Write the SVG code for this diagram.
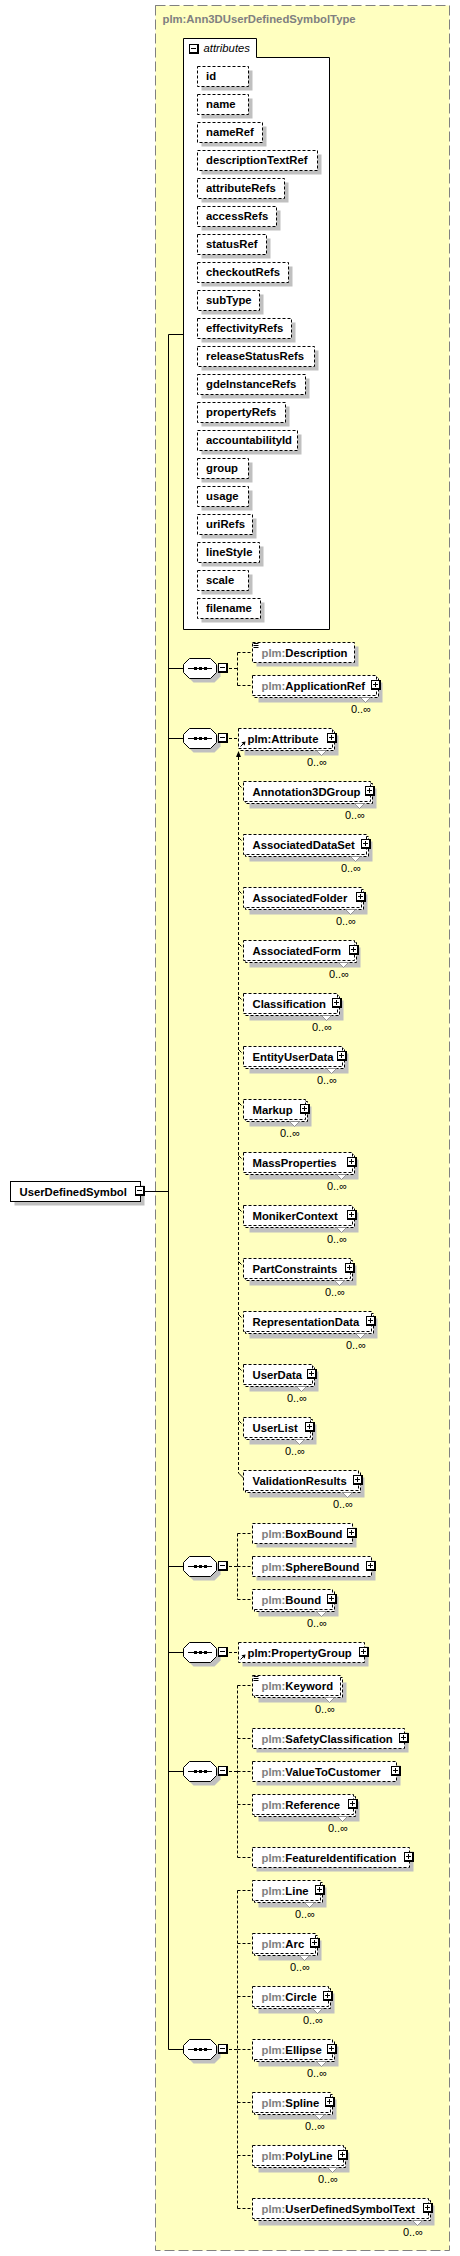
<svg xmlns="http://www.w3.org/2000/svg" xmlns:xlink="http://www.w3.org/1999/xlink" width="460" height="2256" viewBox="0 0 460 2256">
<style>
.t{font-family:"Liberation Sans",Arial,sans-serif;font-size:11.3px;font-weight:bold;fill:#000}
.g{fill:#808080}
.i{font-family:"Liberation Sans",Arial,sans-serif;font-size:11.3px;font-style:italic;fill:#000}
.o{font-family:"Liberation Sans",Arial,sans-serif;font-size:11px;fill:#000;text-anchor:end}
.b{fill:#fff;stroke:#000;stroke-width:1;stroke-dasharray:3,2}
.bs{fill:#fff;stroke:#000;stroke-width:1}
.s{fill:#c0c0c0}
.c{fill:none;stroke:#000;stroke-width:1;stroke-dasharray:3,2}
.l{fill:none;stroke:#000;stroke-width:1}
.v{fill:#fff;stroke:#808080;stroke-width:0.8}
</style>
<defs>
<g id="plus"><rect width="10" height="10" fill="#000"/><rect x="1" y="1" width="7" height="7" fill="#fff"/><rect x="2" y="4" width="5" height="1" fill="#000"/><rect x="4" y="2" width="1" height="5" fill="#000"/></g>
<g id="minus"><rect width="10" height="10" fill="#000"/><rect x="1" y="1" width="7" height="7" fill="#fff"/><rect x="2" y="4" width="5" height="1" fill="#000"/></g>
<g id="seq">
<polygon class="s" points="193.5,-6 214.5,-6 220.5,0 220.5,8 214.5,14 193.5,14 187.5,8 187.5,0"/>
<polygon class="bs" points="189.5,-10 210.5,-10 216.5,-4 216.5,4 210.5,10 189.5,10 183.5,4 183.5,-4"/>
<path class="l" d="M188 0H212"/>
<rect x="194" y="-1.5" width="3" height="3" fill="#000"/><rect x="199" y="-1.5" width="3" height="3" fill="#000"/><rect x="204" y="-1.5" width="3" height="3" fill="#000"/>
<use href="#minus" x="218" y="-5.5"/>
</g>
<path id="doc" d="M0 0h5M0 2h5M0 4h5" fill="none" stroke="#000" stroke-width="1"/>
</defs>

<g id="type-box">
<rect x="155.5" y="5.5" width="294" height="2245" fill="#ffffc0" stroke="#808080" stroke-width="1" stroke-dasharray="10,4"/>
<text class="t g" x="162.5" y="22.5">plm:Ann3DUserDefinedSymbolType</text>
</g>

<g id="connectors">
<path class="l" d="M145 1191.5H168.5M168.5 334.5V2049.5M168.5 334.5H183.5M168.5 668.5H183.5M168.5 738.5H183.5M168.5 1566.5H183.5M168.5 1652.5H183.5M168.5 1771.5H183.5M168.5 2049.5H183.5"/>
<path class="c" d="M229 668.5H237.5M237.5 652.5V685.5M237.5 652.5H252.5M237.5 685.5H252.5"/>
<path class="c" d="M229 738.5H238.5"/>
<polygon points="238.5,751 236,757 241,757" fill="#000"/>
<path class="c" d="M238.5 757V1473"/>
<path class="l" d="M238.5 1473L243.5 1478M238.5 784.5l3 3M238.5 837.5l3 3M238.5 890.5l3 3M238.5 943.5l3 3M238.5 996.5l3 3M238.5 1049.5l3 3M238.5 1102.5l3 3M238.5 1155.5l3 3M238.5 1208.5l3 3M238.5 1261.5l3 3M238.5 1314.5l3 3M238.5 1367.5l3 3M238.5 1420.5l3 3"/>
<path class="c" d="M229 1566.5H237.5M237.5 1533.5V1599.5M237.5 1533.5H252.5M237.5 1566.5H252.5M237.5 1599.5H252.5"/>
<path class="c" d="M229 1652.5H238.5"/>
<path class="c" d="M229 1771.5H237.5M237.5 1685.5V1857.5M237.5 1685.5H252.5M237.5 1738.5H252.5M237.5 1771.5H252.5M237.5 1804.5H252.5M237.5 1857.5H252.5"/>
<path class="c" d="M229 2049.5H237.5M237.5 1890.5V2208.5M237.5 1890.5H252.5M237.5 1943.5H252.5M237.5 1996.5H252.5M237.5 2049.5H252.5M237.5 2102.5H252.5M237.5 2155.5H252.5M237.5 2208.5H252.5"/>
</g>

<g id="UserDefinedSymbol">
<rect class="s" x="14.5" y="1185.5" width="130" height="20"/>
<rect class="bs" x="10.5" y="1181.5" width="130" height="20"/>
<text class="t" x="19.5" y="1195.5">UserDefinedSymbol</text>
<use href="#minus" x="135" y="1186"/>
</g>

<g id="attributes">
<path class="bs" d="M183.5 38.5H256.5V57.5H329.5V629.5H183.5Z"/>
<use href="#minus" x="189" y="44"/>
<text class="i" x="203.5" y="52">attributes</text>
</g>

<g id="attr-id"><rect class="s" x="201.5" y="70.5" width="51" height="20"/><rect class="b" x="197.5" y="66.5" width="51" height="20"/><text class="t" x="206" y="80">id</text></g>
<g id="attr-name"><rect class="s" x="201.5" y="98.5" width="51" height="20"/><rect class="b" x="197.5" y="94.5" width="51" height="20"/><text class="t" x="206" y="108">name</text></g>
<g id="attr-nameRef"><rect class="s" x="201.5" y="126.5" width="65" height="20"/><rect class="b" x="197.5" y="122.5" width="65" height="20"/><text class="t" x="206" y="136">nameRef</text></g>
<g id="attr-descriptionTextRef"><rect class="s" x="201.5" y="154.5" width="120" height="20"/><rect class="b" x="197.5" y="150.5" width="120" height="20"/><text class="t" x="206" y="164">descriptionTextRef</text></g>
<g id="attr-attributeRefs"><rect class="s" x="201.5" y="182.5" width="87" height="20"/><rect class="b" x="197.5" y="178.5" width="87" height="20"/><text class="t" x="206" y="192">attributeRefs</text></g>
<g id="attr-accessRefs"><rect class="s" x="201.5" y="210.5" width="79" height="20"/><rect class="b" x="197.5" y="206.5" width="79" height="20"/><text class="t" x="206" y="220">accessRefs</text></g>
<g id="attr-statusRef"><rect class="s" x="201.5" y="238.5" width="69" height="20"/><rect class="b" x="197.5" y="234.5" width="69" height="20"/><text class="t" x="206" y="248">statusRef</text></g>
<g id="attr-checkoutRefs"><rect class="s" x="201.5" y="266.5" width="91" height="20"/><rect class="b" x="197.5" y="262.5" width="91" height="20"/><text class="t" x="206" y="276">checkoutRefs</text></g>
<g id="attr-subType"><rect class="s" x="201.5" y="294.5" width="62" height="20"/><rect class="b" x="197.5" y="290.5" width="62" height="20"/><text class="t" x="206" y="304">subType</text></g>
<g id="attr-effectivityRefs"><rect class="s" x="201.5" y="322.5" width="94" height="20"/><rect class="b" x="197.5" y="318.5" width="94" height="20"/><text class="t" x="206" y="332">effectivityRefs</text></g>
<g id="attr-releaseStatusRefs"><rect class="s" x="201.5" y="350.5" width="117" height="20"/><rect class="b" x="197.5" y="346.5" width="117" height="20"/><text class="t" x="206" y="360">releaseStatusRefs</text></g>
<g id="attr-gdeInstanceRefs"><rect class="s" x="201.5" y="378.5" width="108" height="20"/><rect class="b" x="197.5" y="374.5" width="108" height="20"/><text class="t" x="206" y="388">gdeInstanceRefs</text></g>
<g id="attr-propertyRefs"><rect class="s" x="201.5" y="406.5" width="88" height="20"/><rect class="b" x="197.5" y="402.5" width="88" height="20"/><text class="t" x="206" y="416">propertyRefs</text></g>
<g id="attr-accountabilityId"><rect class="s" x="201.5" y="434.5" width="100" height="20"/><rect class="b" x="197.5" y="430.5" width="100" height="20"/><text class="t" x="206" y="444">accountabilityId</text></g>
<g id="attr-group"><rect class="s" x="201.5" y="462.5" width="51" height="20"/><rect class="b" x="197.5" y="458.5" width="51" height="20"/><text class="t" x="206" y="472">group</text></g>
<g id="attr-usage"><rect class="s" x="201.5" y="490.5" width="51" height="20"/><rect class="b" x="197.5" y="486.5" width="51" height="20"/><text class="t" x="206" y="500">usage</text></g>
<g id="attr-uriRefs"><rect class="s" x="201.5" y="518.5" width="55" height="20"/><rect class="b" x="197.5" y="514.5" width="55" height="20"/><text class="t" x="206" y="528">uriRefs</text></g>
<g id="attr-lineStyle"><rect class="s" x="201.5" y="546.5" width="62" height="20"/><rect class="b" x="197.5" y="542.5" width="62" height="20"/><text class="t" x="206" y="556">lineStyle</text></g>
<g id="attr-scale"><rect class="s" x="201.5" y="574.5" width="51" height="20"/><rect class="b" x="197.5" y="570.5" width="51" height="20"/><text class="t" x="206" y="584">scale</text></g>
<g id="attr-filename"><rect class="s" x="201.5" y="602.5" width="63" height="20"/><rect class="b" x="197.5" y="598.5" width="63" height="20"/><text class="t" x="206" y="612">filename</text></g>

<g id="seq1"><use href="#seq" y="668.5"/></g>
<g id="seq2"><use href="#seq" y="738.5"/></g>
<g id="seq3"><use href="#seq" y="1566.5"/></g>
<g id="seq4"><use href="#seq" y="1652.5"/></g>
<g id="seq5"><use href="#seq" y="1771.5"/></g>
<g id="seq6"><use href="#seq" y="2049.5"/></g>

<g id="Description"><rect class="s" x="256.5" y="646.5" width="102" height="20"/><rect class="b" x="252.5" y="642.5" width="102" height="20"/><use href="#doc" x="253.5" y="643.5"/><text class="t" x="261.5" y="656.5"><tspan class="g">plm:</tspan>Description</text></g>
<g id="ApplicationRef"><rect class="s" x="258.5" y="682.5" width="124" height="20"/><rect class="b" x="254.5" y="677.5" width="124" height="20"/><rect class="b" x="252.5" y="675.5" width="124" height="20"/><polygon class="v" points="360.5,697.5 365.5,702.5 370.5,697.5"/><text class="t" x="261.5" y="689.5"><tspan class="g">plm:</tspan>ApplicationRef</text><use href="#plus" x="371" y="680"/><text class="o" x="371" y="712.5">0..∞</text></g>

<g id="Attribute"><rect class="s" x="244.5" y="735.5" width="94" height="20"/><rect class="b" x="240.5" y="730.5" width="94" height="20"/><rect class="b" x="238.5" y="728.5" width="94" height="20"/><polygon class="v" points="316.5,750.5 321.5,755.5 326.5,750.5"/><text class="t" x="247.5" y="742.5">plm:Attribute</text><path class="l" d="M240.5 746.5L244 743"/><polygon points="245.5,741.5 241.5,742.3 244.7,745.5" fill="#000"/><use href="#plus" x="327" y="733"/><text class="o" x="327" y="765.5">0..∞</text></g>

<g id="Annotation3DGroup"><rect class="s" x="249.5" y="788.5" width="127" height="20"/><rect class="b" x="245.5" y="783.5" width="127" height="20"/><rect class="b" x="243.5" y="781.5" width="127" height="20"/><polygon class="v" points="354.5,803.5 359.5,808.5 364.5,803.5"/><text class="t" x="252.5" y="795.5">Annotation3DGroup</text><use href="#plus" x="365" y="786"/><text class="o" x="365" y="818.5">0..∞</text></g>
<g id="AssociatedDataSet"><rect class="s" x="249.5" y="841.5" width="123" height="20"/><rect class="b" x="245.5" y="836.5" width="123" height="20"/><rect class="b" x="243.5" y="834.5" width="123" height="20"/><polygon class="v" points="350.5,856.5 355.5,861.5 360.5,856.5"/><text class="t" x="252.5" y="848.5">AssociatedDataSet</text><use href="#plus" x="361" y="839"/><text class="o" x="361" y="871.5">0..∞</text></g>
<g id="AssociatedFolder"><rect class="s" x="249.5" y="894.5" width="118" height="20"/><rect class="b" x="245.5" y="889.5" width="118" height="20"/><rect class="b" x="243.5" y="887.5" width="118" height="20"/><polygon class="v" points="345.5,909.5 350.5,914.5 355.5,909.5"/><text class="t" x="252.5" y="901.5">AssociatedFolder</text><use href="#plus" x="356" y="892"/><text class="o" x="356" y="924.5">0..∞</text></g>
<g id="AssociatedForm"><rect class="s" x="249.5" y="947.5" width="111" height="20"/><rect class="b" x="245.5" y="942.5" width="111" height="20"/><rect class="b" x="243.5" y="940.5" width="111" height="20"/><polygon class="v" points="338.5,962.5 343.5,967.5 348.5,962.5"/><text class="t" x="252.5" y="954.5">AssociatedForm</text><use href="#plus" x="349" y="945"/><text class="o" x="349" y="977.5">0..∞</text></g>
<g id="Classification"><rect class="s" x="249.5" y="1000.5" width="94" height="20"/><rect class="b" x="245.5" y="995.5" width="94" height="20"/><rect class="b" x="243.5" y="993.5" width="94" height="20"/><polygon class="v" points="321.5,1015.5 326.5,1020.5 331.5,1015.5"/><text class="t" x="252.5" y="1007.5">Classification</text><use href="#plus" x="332" y="998"/><text class="o" x="332" y="1030.5">0..∞</text></g>
<g id="EntityUserData"><rect class="s" x="249.5" y="1053.5" width="99" height="20"/><rect class="b" x="245.5" y="1048.5" width="99" height="20"/><rect class="b" x="243.5" y="1046.5" width="99" height="20"/><polygon class="v" points="326.5,1068.5 331.5,1073.5 336.5,1068.5"/><text class="t" x="252.5" y="1060.5">EntityUserData</text><use href="#plus" x="337" y="1051"/><text class="o" x="337" y="1083.5">0..∞</text></g>
<g id="Markup"><rect class="s" x="249.5" y="1106.5" width="62" height="20"/><rect class="b" x="245.5" y="1101.5" width="62" height="20"/><rect class="b" x="243.5" y="1099.5" width="62" height="20"/><polygon class="v" points="289.5,1121.5 294.5,1126.5 299.5,1121.5"/><text class="t" x="252.5" y="1113.5">Markup</text><use href="#plus" x="300" y="1104"/><text class="o" x="300" y="1136.5">0..∞</text></g>
<g id="MassProperties"><rect class="s" x="249.5" y="1159.5" width="109" height="20"/><rect class="b" x="245.5" y="1154.5" width="109" height="20"/><rect class="b" x="243.5" y="1152.5" width="109" height="20"/><polygon class="v" points="336.5,1174.5 341.5,1179.5 346.5,1174.5"/><text class="t" x="252.5" y="1166.5">MassProperties</text><use href="#plus" x="347" y="1157"/><text class="o" x="347" y="1189.5">0..∞</text></g>
<g id="MonikerContext"><rect class="s" x="249.5" y="1212.5" width="109" height="20"/><rect class="b" x="245.5" y="1207.5" width="109" height="20"/><rect class="b" x="243.5" y="1205.5" width="109" height="20"/><polygon class="v" points="336.5,1227.5 341.5,1232.5 346.5,1227.5"/><text class="t" x="252.5" y="1219.5">MonikerContext</text><use href="#plus" x="347" y="1210"/><text class="o" x="347" y="1242.5">0..∞</text></g>
<g id="PartConstraints"><rect class="s" x="249.5" y="1265.5" width="107" height="20"/><rect class="b" x="245.5" y="1260.5" width="107" height="20"/><rect class="b" x="243.5" y="1258.5" width="107" height="20"/><polygon class="v" points="334.5,1280.5 339.5,1285.5 344.5,1280.5"/><text class="t" x="252.5" y="1272.5">PartConstraints</text><use href="#plus" x="345" y="1263"/><text class="o" x="345" y="1295.5">0..∞</text></g>
<g id="RepresentationData"><rect class="s" x="249.5" y="1318.5" width="128" height="20"/><rect class="b" x="245.5" y="1313.5" width="128" height="20"/><rect class="b" x="243.5" y="1311.5" width="128" height="20"/><polygon class="v" points="355.5,1333.5 360.5,1338.5 365.5,1333.5"/><text class="t" x="252.5" y="1325.5">RepresentationData</text><use href="#plus" x="366" y="1316"/><text class="o" x="366" y="1348.5">0..∞</text></g>
<g id="UserData"><rect class="s" x="249.5" y="1371.5" width="69" height="20"/><rect class="b" x="245.5" y="1366.5" width="69" height="20"/><rect class="b" x="243.5" y="1364.5" width="69" height="20"/><polygon class="v" points="296.5,1386.5 301.5,1391.5 306.5,1386.5"/><text class="t" x="252.5" y="1378.5">UserData</text><use href="#plus" x="307" y="1369"/><text class="o" x="307" y="1401.5">0..∞</text></g>
<g id="UserList"><rect class="s" x="249.5" y="1424.5" width="67" height="20"/><rect class="b" x="245.5" y="1419.5" width="67" height="20"/><rect class="b" x="243.5" y="1417.5" width="67" height="20"/><polygon class="v" points="294.5,1439.5 299.5,1444.5 304.5,1439.5"/><text class="t" x="252.5" y="1431.5">UserList</text><use href="#plus" x="305" y="1422"/><text class="o" x="305" y="1454.5">0..∞</text></g>
<g id="ValidationResults"><rect class="s" x="249.5" y="1477.5" width="115" height="20"/><rect class="b" x="245.5" y="1472.5" width="115" height="20"/><rect class="b" x="243.5" y="1470.5" width="115" height="20"/><polygon class="v" points="342.5,1492.5 347.5,1497.5 352.5,1492.5"/><text class="t" x="252.5" y="1484.5">ValidationResults</text><use href="#plus" x="353" y="1475"/><text class="o" x="353" y="1507.5">0..∞</text></g>

<g id="BoxBound"><rect class="s" x="256.5" y="1527.5" width="100" height="20"/><rect class="b" x="252.5" y="1523.5" width="100" height="20"/><text class="t" x="261.5" y="1537.5"><tspan class="g">plm:</tspan>BoxBound</text><use href="#plus" x="347" y="1528"/></g>
<g id="SphereBound"><rect class="s" x="256.5" y="1560.5" width="119" height="20"/><rect class="b" x="252.5" y="1556.5" width="119" height="20"/><text class="t" x="261.5" y="1570.5"><tspan class="g">plm:</tspan>SphereBound</text><use href="#plus" x="366" y="1561"/></g>
<g id="Bound"><rect class="s" x="258.5" y="1596.5" width="80" height="20"/><rect class="b" x="254.5" y="1591.5" width="80" height="20"/><rect class="b" x="252.5" y="1589.5" width="80" height="20"/><polygon class="v" points="316.5,1611.5 321.5,1616.5 326.5,1611.5"/><text class="t" x="261.5" y="1603.5"><tspan class="g">plm:</tspan>Bound</text><use href="#plus" x="327" y="1594"/><text class="o" x="327" y="1626.5">0..∞</text></g>

<g id="PropertyGroup"><rect class="s" x="242.5" y="1646.5" width="126" height="20"/><rect class="b" x="238.5" y="1642.5" width="126" height="20"/><text class="t" x="247.5" y="1656.5">plm:PropertyGroup</text><path class="l" d="M240.5 1659.5L244 1656"/><polygon points="245.5,1654.5 241.5,1655.3 244.7,1658.5" fill="#000"/><use href="#plus" x="359" y="1647"/></g>

<g id="Keyword"><rect class="s" x="258.5" y="1682.5" width="88" height="20"/><rect class="b" x="254.5" y="1677.5" width="88" height="20"/><rect class="b" x="252.5" y="1675.5" width="88" height="20"/><polygon class="v" points="324.5,1697.5 329.5,1702.5 334.5,1697.5"/><use href="#doc" x="253.5" y="1676.5"/><text class="t" x="261.5" y="1689.5"><tspan class="g">plm:</tspan>Keyword</text><text class="o" x="335" y="1712.5">0..∞</text></g>
<g id="SafetyClassification"><rect class="s" x="256.5" y="1732.5" width="152" height="20"/><rect class="b" x="252.5" y="1728.5" width="152" height="20"/><text class="t" x="261.5" y="1742.5"><tspan class="g">plm:</tspan>SafetyClassification</text><use href="#plus" x="399" y="1733"/></g>
<g id="ValueToCustomer"><rect class="s" x="256.5" y="1765.5" width="144" height="20"/><rect class="b" x="252.5" y="1761.5" width="144" height="20"/><text class="t" x="261.5" y="1775.5"><tspan class="g">plm:</tspan>ValueToCustomer</text><use href="#plus" x="391" y="1766"/></g>
<g id="Reference"><rect class="s" x="258.5" y="1801.5" width="101" height="20"/><rect class="b" x="254.5" y="1796.5" width="101" height="20"/><rect class="b" x="252.5" y="1794.5" width="101" height="20"/><polygon class="v" points="337.5,1816.5 342.5,1821.5 347.5,1816.5"/><text class="t" x="261.5" y="1808.5"><tspan class="g">plm:</tspan>Reference</text><use href="#plus" x="348" y="1799"/><text class="o" x="348" y="1831.5">0..∞</text></g>
<g id="FeatureIdentification"><rect class="s" x="256.5" y="1851.5" width="157" height="20"/><rect class="b" x="252.5" y="1847.5" width="157" height="20"/><text class="t" x="261.5" y="1861.5"><tspan class="g">plm:</tspan>FeatureIdentification</text><use href="#plus" x="404" y="1852"/></g>

<g id="Line"><rect class="s" x="258.5" y="1887.5" width="68" height="20"/><rect class="b" x="254.5" y="1882.5" width="68" height="20"/><rect class="b" x="252.5" y="1880.5" width="68" height="20"/><polygon class="v" points="304.5,1902.5 309.5,1907.5 314.5,1902.5"/><text class="t" x="261.5" y="1894.5"><tspan class="g">plm:</tspan>Line</text><use href="#plus" x="315" y="1885"/><text class="o" x="315" y="1917.5">0..∞</text></g>
<g id="Arc"><rect class="s" x="258.5" y="1940.5" width="63" height="20"/><rect class="b" x="254.5" y="1935.5" width="63" height="20"/><rect class="b" x="252.5" y="1933.5" width="63" height="20"/><polygon class="v" points="299.5,1955.5 304.5,1960.5 309.5,1955.5"/><text class="t" x="261.5" y="1947.5"><tspan class="g">plm:</tspan>Arc</text><use href="#plus" x="310" y="1938"/><text class="o" x="310" y="1970.5">0..∞</text></g>
<g id="Circle"><rect class="s" x="258.5" y="1993.5" width="76" height="20"/><rect class="b" x="254.5" y="1988.5" width="76" height="20"/><rect class="b" x="252.5" y="1986.5" width="76" height="20"/><polygon class="v" points="312.5,2008.5 317.5,2013.5 322.5,2008.5"/><text class="t" x="261.5" y="2000.5"><tspan class="g">plm:</tspan>Circle</text><use href="#plus" x="323" y="1991"/><text class="o" x="323" y="2023.5">0..∞</text></g>
<g id="Ellipse"><rect class="s" x="258.5" y="2046.5" width="80" height="20"/><rect class="b" x="254.5" y="2041.5" width="80" height="20"/><rect class="b" x="252.5" y="2039.5" width="80" height="20"/><polygon class="v" points="316.5,2061.5 321.5,2066.5 326.5,2061.5"/><text class="t" x="261.5" y="2053.5"><tspan class="g">plm:</tspan>Ellipse</text><use href="#plus" x="327" y="2044"/><text class="o" x="327" y="2076.5">0..∞</text></g>
<g id="Spline"><rect class="s" x="258.5" y="2099.5" width="78" height="20"/><rect class="b" x="254.5" y="2094.5" width="78" height="20"/><rect class="b" x="252.5" y="2092.5" width="78" height="20"/><polygon class="v" points="314.5,2114.5 319.5,2119.5 324.5,2114.5"/><text class="t" x="261.5" y="2106.5"><tspan class="g">plm:</tspan>Spline</text><use href="#plus" x="325" y="2097"/><text class="o" x="325" y="2129.5">0..∞</text></g>
<g id="PolyLine"><rect class="s" x="258.5" y="2152.5" width="91" height="20"/><rect class="b" x="254.5" y="2147.5" width="91" height="20"/><rect class="b" x="252.5" y="2145.5" width="91" height="20"/><polygon class="v" points="327.5,2167.5 332.5,2172.5 337.5,2167.5"/><text class="t" x="261.5" y="2159.5"><tspan class="g">plm:</tspan>PolyLine</text><use href="#plus" x="338" y="2150"/><text class="o" x="338" y="2182.5">0..∞</text></g>
<g id="UserDefinedSymbolText"><rect class="s" x="258.5" y="2205.5" width="176" height="20"/><rect class="b" x="254.5" y="2200.5" width="176" height="20"/><rect class="b" x="252.5" y="2198.5" width="176" height="20"/><polygon class="v" points="412.5,2220.5 417.5,2225.5 422.5,2220.5"/><text class="t" x="261.5" y="2212.5"><tspan class="g">plm:</tspan>UserDefinedSymbolText</text><use href="#plus" x="423" y="2203"/><text class="o" x="423" y="2235.5">0..∞</text></g>
</svg>
